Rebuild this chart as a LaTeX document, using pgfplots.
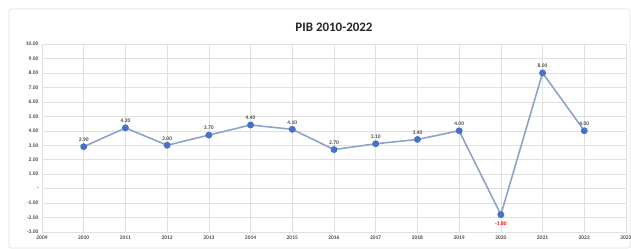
\documentclass[border=0pt]{standalone}
\usepackage{pgfplots}
\pgfplotsset{compat=1.18}
\usepackage{fontspec}
\setmainfont{Carlito}
\definecolor{mk}{HTML}{4472C4}
\definecolor{ln}{HTML}{8EA3C8}
\definecolor{gridc}{HTML}{E0E0E0}
\begin{document}
\begin{tikzpicture}
\path[use as bounding box] (-42bp,-17bp) rectangle (589bp,232bp);
\draw[gray!25, rounded corners=2bp, line width=0.8bp] (-33bp,-16bp) rectangle (588bp,223bp);
\begin{axis}[
  scale only axis, width=584bp, height=188bp,
  xmin=2009, xmax=2023, ymin=-3, ymax=10,
  xtick={2009,...,2023},
  ytick={-3,...,10},
  yticklabels={-3.00,-2.00,-1.00,-,1.00,2.00,3.00,4.00,5.00,6.00,7.00,8.00,9.00,10.00},
  xticklabel style={/pgf/number format/1000 sep=},
  /pgf/number format/assume math mode=true,
  tick label style={font=\fontsize{5.5}{6}\selectfont\bfseries, text=black!70},
  grid=both, grid style={gridc, line width=0.5bp},
  axis line style={gridc},
  tick style={draw=none},
  title={\textbf{PIB 2010-2022}},
  title style={font=\fontsize{13}{14}\selectfont, text=black!85, yshift=3bp},
  point meta=explicit symbolic,
]
\addplot[color=ln, line width=1.6bp, mark=*, mark size=2.6bp,
  mark options={fill=mk, draw=mk}, nodes near coords,
  every node near coord/.append style={font=\fontsize{5.5}{6}\selectfont\bfseries, text=black!70, yshift=1bp}]
  table[meta=lab] {
x y lab
2010 2.90 2.90
2011 4.20 4.20
2012 3.00 3.00
2013 3.70 3.70
2014 4.40 4.40
2015 4.10 4.10
2016 2.70 2.70
2017 3.10 3.10
2018 3.40 3.40
2019 4.00 4.00
2020 -1.80 {}
2021 8.00 8.00
2022 4.00 4.00
};
\addplot[draw=none, mark=none, nodes near coords,
  every node near coord/.append style={font=\fontsize{5.5}{6}\selectfont\bfseries, text=red, anchor=north, yshift=-4bp}]
  table[meta=lab] {
x y lab
2020 -1.80 -1.80
};
\end{axis}
\end{tikzpicture}
\end{document}
